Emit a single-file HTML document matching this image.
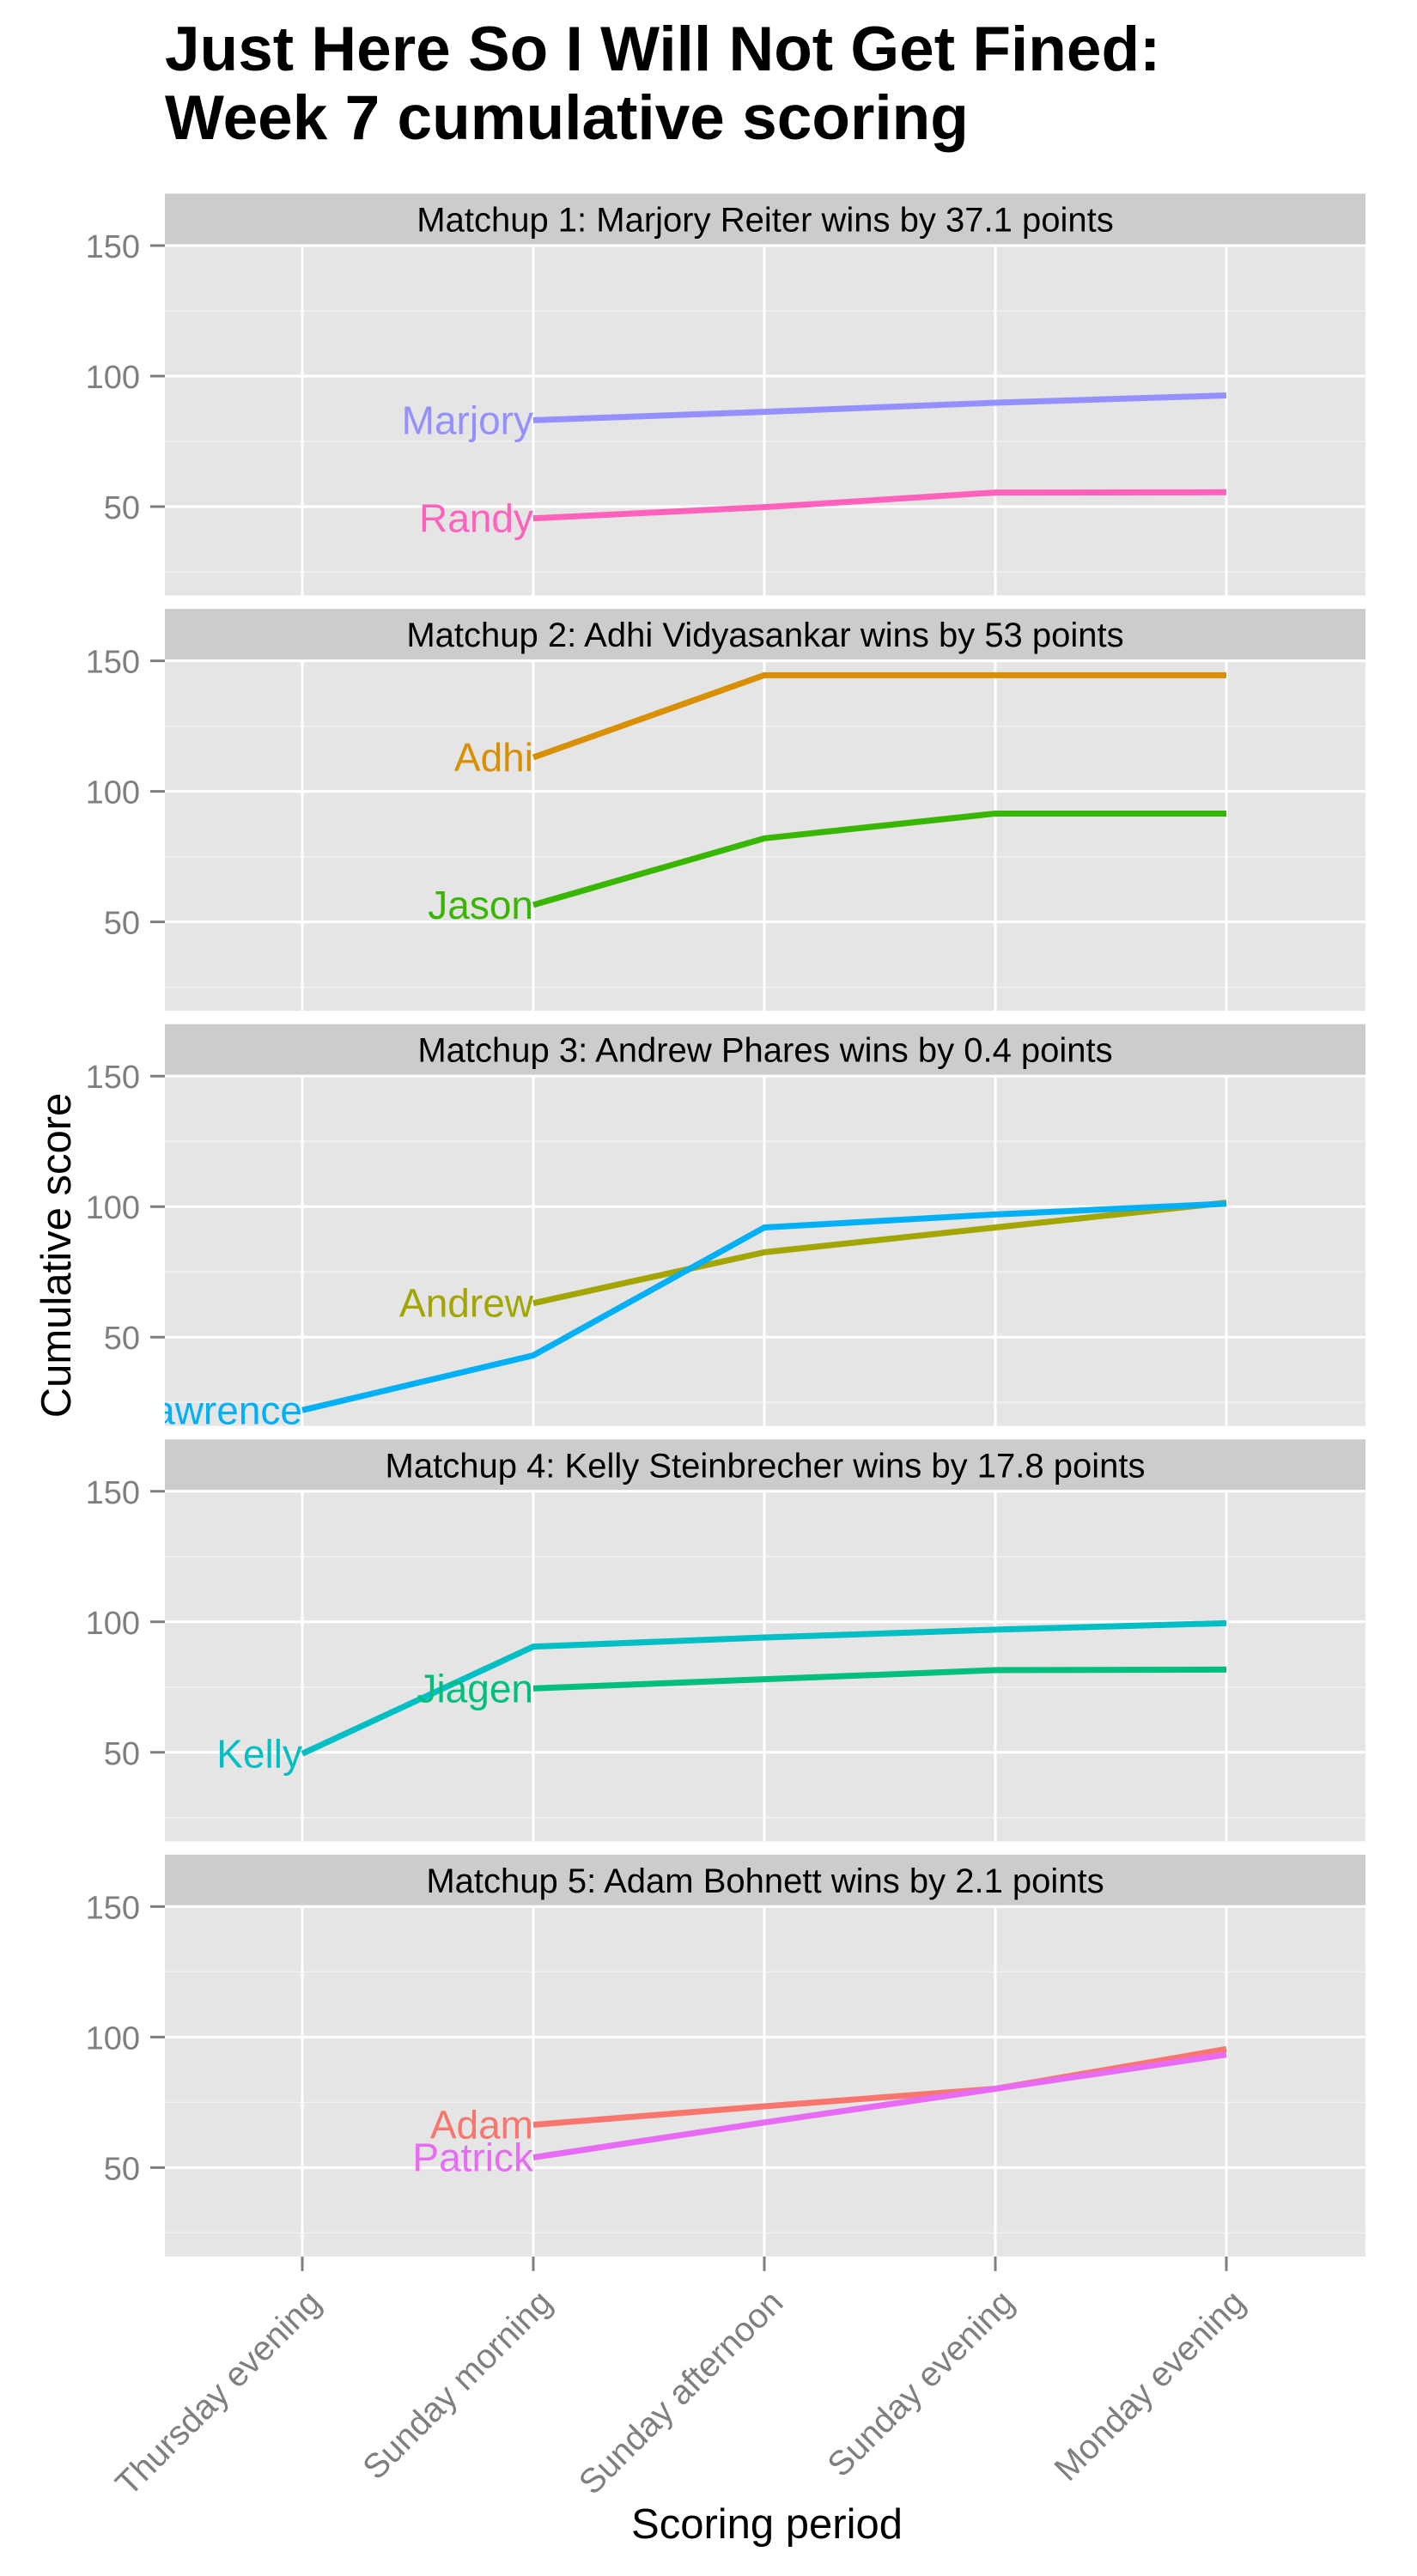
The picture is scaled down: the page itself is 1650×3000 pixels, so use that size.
<!DOCTYPE html>
<html><head><meta charset="utf-8"><style>
html,body{margin:0;padding:0;background:#fff;}
svg{display:block;font-family:"Liberation Sans",sans-serif;}
</style></head><body>
<svg id="chart" width="1650" height="3000" viewBox="0 0 1650 3000" xmlns="http://www.w3.org/2000/svg">
<text x="192" y="82" font-size="73" font-weight="bold" fill="#000">Just Here So I Will Not Get Fined:</text>
<text x="192" y="162" font-size="73" font-weight="bold" fill="#000">Week 7 cumulative scoring</text>
<text transform="translate(82,1462) rotate(-90)" text-anchor="middle" font-size="49" fill="#000">Cumulative score</text>
<text x="893" y="2956" text-anchor="middle" font-size="49" fill="#000">Scoring period</text>
</svg>
<script>
const categories = ["Thursday evening","Sunday morning","Sunday afternoon","Sunday evening","Monday evening"];
const yTicks = [50,100,150];
const yMinor = [25,75,125];
const stripTitles = [
  "Matchup 1: Marjory Reiter wins by 37.1 points",
  "Matchup 2: Adhi Vidyasankar wins by 53 points",
  "Matchup 3: Andrew Phares wins by 0.4 points",
  "Matchup 4: Kelly Steinbrecher wins by 17.8 points",
  "Matchup 5: Adam Bohnett wins by 2.1 points"
];
const seriesNames = [["Marjory","Randy"],["Adhi","Jason"],["Andrew","Lawrence"],["Kelly","Jiagen"],["Adam","Patrick"]];
const seriesColors = [["#9590FF","#FF62BC"],["#D89000","#39B600"],["#A3A500","#00B0F6"],["#00BFC4","#00BF7D"],["#F8766D","#E76BF3"]];
const marjory = [null,83.1,86.3,89.8,92.6];
const randy = [null,45.5,49.8,55.4,55.5];
const adhi = [null,113,144.5,144.5,144.5];
const jason = [null,56.5,82,91.5,91.5];
const andrew = [null,63,82.5,92,101.5];
const lawrence = [22,43,92,97,101.1];
const kelly = [49.5,90.5,94,97,99.5];
const jiagen = [null,74.5,78,81.5,81.7];
const adam = [null,66.4,73.5,80.2,95.4];
const patrick = [null,53.9,67.3,80.2,93.3];
const seriesValues = [[marjory,randy],[adhi,jason],[andrew,lawrence],[kelly,jiagen],[adam,patrick]];

const NS = "http://www.w3.org/2000/svg";
const svg = document.getElementById("chart");
const plotL = 192, plotR = 1590, pitch = 483.6, strip0 = 225.5, stripH = 59;
const xPos = i => 352 + i * 269;
function mk(tag, attrs, parent) {
  const e = document.createElementNS(NS, tag);
  for (const k in attrs) e.setAttribute(k, attrs[k]);
  (parent || svg).appendChild(e);
  return e;
}
for (let p = 0; p < 5; p++) {
  const st = strip0 + p * pitch;
  const pTop = st + stripH + 1, pBot = st + 468;
  const yPos = v => st + 60.5 + (150 - v) * 3.04;
  const g = mk("g", {});
  
  
  const strip = mk("rect", {x: plotL, y: st, width: plotR - plotL, height: stripH, fill: "#CCCCCC"}, g);
  
  
  const stt = mk("text", {x: (plotL + plotR) / 2, y: st + 44, "text-anchor": "middle", "font-size": "40", fill: "#000"}, g);
  stt.textContent = stripTitles[p];
  
  
  const bg = mk("rect", {x: plotL, y: pTop, width: plotR - plotL, height: pBot - pTop, fill: "#E5E5E5"}, g);
  
  
  const clipId = "clip" + p;
  const cp = mk("clipPath", {id: clipId}, g);
  mk("rect", {x: plotL, y: pTop, width: plotR - plotL, height: pBot - pTop}, cp);
  yMinor.forEach(v => {
    const l = mk("line", {x1: plotL, x2: plotR, y1: yPos(v), y2: yPos(v), stroke: "#F2F2F2", "stroke-width": "1.5"}, g);
    
    
  });
  yTicks.forEach(v => {
    const l = mk("line", {x1: plotL, x2: plotR, y1: yPos(v), y2: yPos(v), stroke: "#FFFFFF", "stroke-width": "3"}, g);
    
    
    const tk = mk("line", {x1: 175, x2: plotL, y1: yPos(v), y2: yPos(v), stroke: "#7F7F7F", "stroke-width": "3"}, g);
    
    
    const tl = mk("text", {x: 163, y: yPos(v) + 14, "text-anchor": "end", "font-size": "38", fill: "#7F7F7F"}, g);
    tl.textContent = v;
    
    
  });
  categories.forEach((c, i) => {
    const l = mk("line", {x1: xPos(i), x2: xPos(i), y1: pTop, y2: pBot, stroke: "#FFFFFF", "stroke-width": "3"}, g);
    
    
  });
  const cg = mk("g", {"clip-path": "url(#" + clipId + ")"}, g);
  for (let s = 0; s < 2; s++) {
    const vals = seriesValues[p][s];
    let d = "", first = -1;
    vals.forEach((v, i) => {
      if (v === null) return;
      if (first < 0) first = i;
      d += (d ? "L" : "M") + xPos(i) + "," + yPos(v);
    });
    const path = mk("path", {d: d, fill: "none", stroke: seriesColors[p][s], "stroke-width": "7", "stroke-linejoin": "round"}, cg);
    
    
    const lab = mk("text", {x: xPos(first), y: yPos(vals[first]) + 16, "text-anchor": "end", "font-size": "46", fill: seriesColors[p][s]}, cg);
    lab.textContent = seriesNames[p][s];
    
    
  }
  if (p === 4) {
    categories.forEach((c, i) => {
      const tk = mk("line", {x1: xPos(i), x2: xPos(i), y1: pBot, y2: pBot + 17, stroke: "#7F7F7F", "stroke-width": "3"}, g);
      
      
      const t = mk("text", {transform: "translate(" + (xPos(i) + 24) + "," + (pBot + 56) + ") rotate(-45)", "text-anchor": "end", "font-size": "40", fill: "#7F7F7F"}, g);
      t.textContent = c;
      
      
    });
  }
}
</script>
</body></html>
